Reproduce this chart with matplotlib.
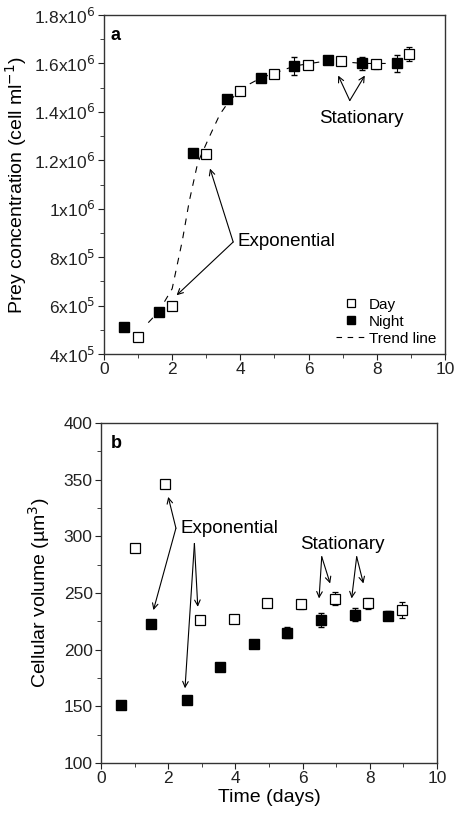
import numpy as np
import matplotlib.pyplot as plt
from matplotlib.ticker import MultipleLocator, FixedLocator
from matplotlib.lines import Line2D

plt.rcParams['font.family'] = ['Liberation Sans', 'DejaVu Sans']

# panel a: prey concentration
a_day_t = [1.0, 2.0, 3.0, 4.0, 5.0, 5.97, 6.95, 7.97, 8.95]
a_day_y = [4.69e5, 6.0e5, 1.228e6, 1.486e6, 1.557e6, 1.595e6, 1.612e6, 1.596e6, 1.64e6]
a_day_err = [0, 0, 0, 0, 0.8e4, 1.5e4, 1.3e4, 2.0e4, 3.0e4]
a_night_t = [0.6, 1.6, 2.6, 3.6, 4.6, 5.58, 6.58, 7.57, 8.58]
a_night_y = [5.1e5, 5.74e5, 1.229e6, 1.455e6, 1.541e6, 1.59e6, 1.615e6, 1.6e6, 1.6e6]
a_night_err = [0, 0, 0, 0, 0.8e4, 3.6e4, 1.0e4, 2.5e4, 3.5e4]
trend_t = [1.3, 1.6, 2.0, 2.3, 2.5, 2.75, 3.1, 3.4, 3.7, 4.2, 4.6, 5.1, 5.6, 6.6, 7.6, 8.6, 9.0]
trend_y = [5.3e5, 5.75e5, 6.7e5, 8.7e5, 1.03e6, 1.19e6, 1.3e6, 1.39e6, 1.45e6, 1.51e6, 1.54e6, 1.565e6,
           1.59e6, 1.612e6, 1.6e6, 1.6e6, 1.63e6]
a_ticks = [4e5, 6e5, 8e5, 1e6, 1.2e6, 1.4e6, 1.6e6, 1.8e6]
a_ticklabels = ['4x10$^5$', '6x10$^5$', '8x10$^5$', '1x10$^6$', '1.2x10$^6$', '1.4x10$^6$', '1.6x10$^6$', '1.8x10$^6$']

# panel b: cellular volume
b_day_t = [1.0, 1.9, 2.95, 3.95, 4.95, 5.95, 6.95, 7.95, 8.95]
b_day_y = [290, 346, 226, 227, 241, 240, 245, 241, 235]
b_day_err = [0, 0, 0, 0, 0, 4, 6, 5, 7]
b_night_t = [0.6, 1.5, 2.55, 3.55, 4.55, 5.55, 6.55, 7.55, 8.55]
b_night_y = [151, 223, 156, 185, 205, 215, 226, 231, 230]
b_night_err = [0, 0, 0, 3, 2, 5, 6, 6, 4]

fig = plt.figure(figsize=(4.54, 8.16), dpi=100)
ax1 = fig.add_axes([0.229, 0.566, 0.751, 0.4156])
ax2 = fig.add_axes([0.2225, 0.065, 0.740, 0.4166])

ms = 7
fs = 12.5
lfs = 14
afs = 13.5

def style(ax):
    for s in ax.spines.values():
        s.set_linewidth(1.0)
        s.set_color('#333333')
    ax.tick_params(which='both', direction='out', top=False, right=False, labelsize=fs, colors='#222222')
    ax.tick_params(which='major', length=4, pad=2)
    ax.tick_params(which='minor', length=3)
    ax.set_xlim(0, 10)
    ax.xaxis.set_major_locator(MultipleLocator(2))
    ax.xaxis.set_minor_locator(MultipleLocator(1))

# ---- panel a ----
ax1.plot(trend_t, trend_y, color='black', lw=0.8, dashes=(6, 6), zorder=1)
ax1.errorbar(a_day_t, a_day_y, yerr=a_day_err, fmt='s', ms=ms, mfc='white', mec='black', mew=0.9,
             ecolor='black', elinewidth=0.8, capsize=2, zorder=3)
ax1.errorbar(a_night_t, a_night_y, yerr=a_night_err, fmt='s', ms=ms, mfc='black', mec='black',
             ecolor='black', elinewidth=0.8, capsize=2, zorder=3)
style(ax1)
ax1.set_ylim(4e5, 1.8e6)
ax1.yaxis.set_major_locator(FixedLocator(a_ticks))
ax1.set_yticklabels(a_ticklabels)
ax1.yaxis.set_minor_locator(MultipleLocator(1e5))
ax1.set_ylabel('Prey concentration (cell ml$^{-1}$)', fontsize=lfs, labelpad=4)
ax1.text(0.02, 0.965, 'a', transform=ax1.transAxes, fontsize=13, fontweight='bold', va='top')

arr = dict(arrowstyle='->', color='black', lw=0.8, shrinkA=0, shrinkB=0)
ax1.annotate('', xy=(3.11, 1.166e6), xytext=(3.79, 8.63e5), arrowprops=arr)
ax1.annotate('', xy=(2.13, 6.43e5), xytext=(3.79, 8.63e5), arrowprops=arr)
ax1.text(3.93, 8.63e5, 'Exponential', fontsize=afs, va='center', ha='left')
ax1.annotate('', xy=(6.87, 1.55e6), xytext=(7.21, 1.447e6), arrowprops=arr)
ax1.annotate('', xy=(7.65, 1.55e6), xytext=(7.21, 1.447e6), arrowprops=arr)
ax1.text(7.56, 1.372e6, 'Stationary', fontsize=afs, va='center', ha='center')

handles = [Line2D([], [], ls='none', marker='s', ms=6, mfc='white', mec='black', mew=0.9),
           Line2D([], [], ls='none', marker='s', ms=6, mfc='black', mec='black'),
           Line2D([], [], color='black', lw=0.8, dashes=(5, 5))]
ax1.legend(handles, ['Day', 'Night', 'Trend line'], loc='lower right', frameon=False,
           fontsize=11, handlelength=2.0, handletextpad=0.2, labelspacing=0.2,
           borderaxespad=0.15)

# ---- panel b ----
ax2.errorbar(b_day_t, b_day_y, yerr=b_day_err, fmt='s', ms=ms, mfc='white', mec='black', mew=0.9,
             ecolor='black', elinewidth=0.8, capsize=2, zorder=3)
ax2.errorbar(b_night_t, b_night_y, yerr=b_night_err, fmt='s', ms=ms, mfc='black', mec='black',
             ecolor='black', elinewidth=0.8, capsize=2, zorder=3)
style(ax2)
ax2.set_ylim(100, 400)
ax2.yaxis.set_major_locator(MultipleLocator(50))
ax2.yaxis.set_minor_locator(MultipleLocator(25))
ax2.set_ylabel('Cellular volume (µm$^3$)', fontsize=lfs, labelpad=8)
ax2.set_xlabel('Time (days)', fontsize=lfs, labelpad=2)
ax2.text(0.03, 0.965, 'b', transform=ax2.transAxes, fontsize=13, fontweight='bold', va='top')

ax2.annotate('', xy=(2.0, 334.8), xytext=(2.23, 307.2), arrowprops=arr)
ax2.annotate('', xy=(1.56, 234.9), xytext=(2.23, 307.2), arrowprops=arr)
ax2.text(2.38, 307, 'Exponential', fontsize=afs, va='center', ha='left')
ax2.annotate('', xy=(2.88, 237.8), xytext=(2.78, 293.7), arrowprops=arr)
ax2.annotate('', xy=(2.5, 165.9), xytext=(2.78, 293.7), arrowprops=arr)
ax2.text(7.19, 293, 'Stationary', fontsize=afs, va='center', ha='center')
for x0, t1, t2 in [(6.57, 6.49, 6.82), (7.61, 7.46, 7.81)]:
    ax2.annotate('', xy=(t1, 245.2), xytext=(x0, 282), arrowprops=arr)
    ax2.annotate('', xy=(t2, 258.4), xytext=(x0, 282), arrowprops=arr)

fig.savefig('out.png', dpi=100)
